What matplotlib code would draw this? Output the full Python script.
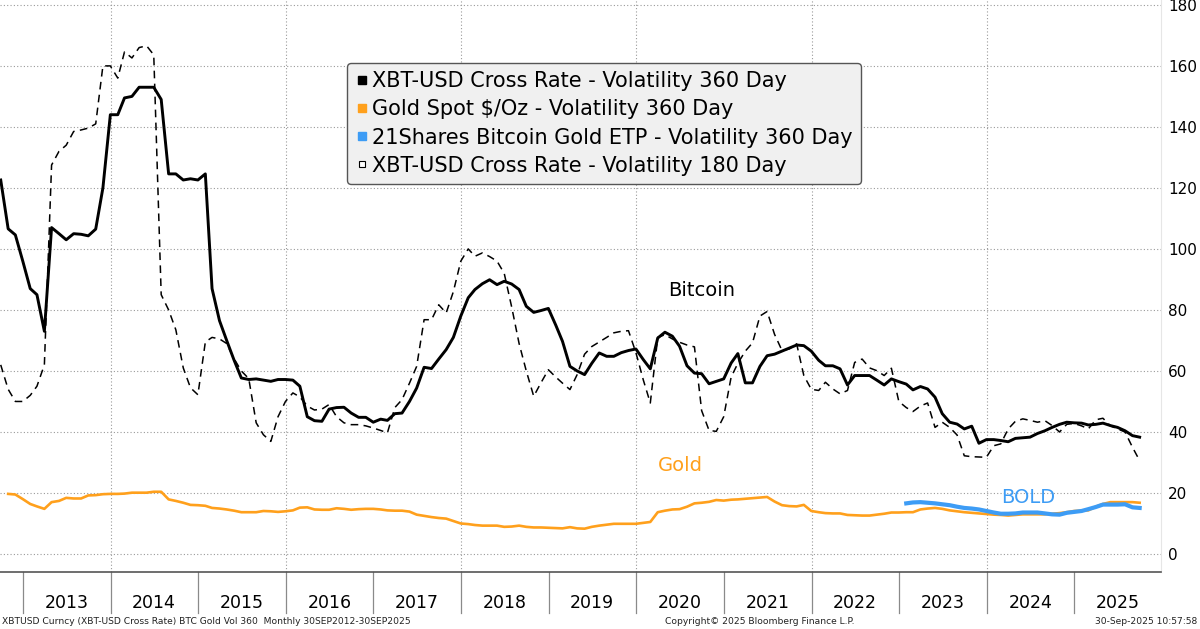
import pandas as pd
import matplotlib
matplotlib.use("Agg")
import matplotlib.pyplot as plt
from matplotlib.lines import Line2D
from matplotlib.transforms import blended_transform_factory

# monthly, 30 Sep 2012 .. 30 Sep 2025
dates = pd.date_range("2012-09-30", "2025-09-30", freq="ME")

btc_360 = [
    122.6, 106.6, 104.6, 96, 87, 85, 73, 107, 105, 103,
    105, 104.8, 104.3, 106.5, 120, 144, 144, 149.5, 150, 153,
    153, 153, 149, 124.6, 124.6, 122.6, 123, 122.6, 124.6, 87,
    76.5, 70, 63.5, 57.7, 57.2, 57.4, 57, 56.6, 57.2, 57.2,
    57, 55, 45, 43.7, 43.5, 47.5, 48, 48.1, 46.2, 44.8,
    44.8, 43.2, 44.2, 43.8, 46, 46.2, 50, 54.4, 61.2, 60.8,
    63.9, 67, 71, 78, 84, 86.7, 88.6, 89.9, 88.3, 89.4,
    88.5, 86.7, 81.2, 79.2, 79.8, 80.5, 75, 69.7, 61.5, 60,
    58.8, 62.5, 65.9, 64.8, 64.8, 66, 66.7, 67.2, 63.7, 60.7,
    70.8, 72.7, 71.4, 68.1, 61.7, 59.3, 59.1, 55.8, 56.6, 57.4,
    62.6, 65.7, 56.1, 56.1, 61.5, 65, 65.5, 66.5, 67.5, 68.5,
    68.3, 66.5, 63.5, 61.7, 61.7, 60.7, 55.4, 58.5, 58.5, 58.5,
    57, 55.4, 57.4, 56.5, 55.7, 53.8, 54.9, 54.1, 51.4, 46,
    43.2, 42.6, 41, 41.9, 36.3, 37.5, 37.5, 37.2, 36.8, 37.9,
    38.1, 38.3, 39.5, 40.4, 41.5, 42.5, 43.2, 43, 42.9, 42.3,
    42.5, 42.9, 42.1, 41.5, 40.4, 38.8, 38.3,
]

btc_180 = [
    62, 54, 50, 50, 52, 55, 62, 127.5, 132, 134,
    138.5, 139, 139.6, 141, 160, 160, 156, 164.6, 162.6, 166,
    166.6, 163.6, 85, 80, 73.5, 61, 54.5, 52.2, 69.5, 71,
    70.5, 69, 64, 60, 57.5, 43, 39.1, 36.9, 45, 50,
    52.8, 51.5, 48.5, 47.2, 47.5, 49, 45, 43, 42.4, 42.4,
    42, 41.3, 40.5, 39.7, 48, 50.6, 56, 61.5, 76.8, 76.8,
    81.7, 79, 86, 96, 100, 97.6, 98.7, 97.5, 96, 92,
    81, 69, 60, 51.7, 56.1, 60.4, 58, 56, 53.9, 58.8,
    65.5, 68, 69.5, 71, 72.5, 73, 73.2, 66, 57, 49.5,
    71, 71.9, 70.5, 69.4, 68.5, 67.9, 47, 40.5, 40.2, 45,
    58, 62.5, 66.5, 69.2, 78, 79.5, 72, 66.7, 67.2, 68.9,
    58.5, 54, 53.6, 56.3, 54.1, 52.5, 53.6, 62.8, 63.9, 61,
    60.1, 58.5, 60.9, 50, 48, 46.7, 48.5, 49.5, 41.5, 43.2,
    41.5, 39, 32.2, 31.9, 31.8, 31.7, 35.5, 36.1, 41, 43.5,
    44.3, 43.8, 43.2, 43.7, 42.1, 40, 42.5, 42.8, 42, 41,
    44, 44.5, 42, 41, 40, 35, 30.6,
]

# gold starts Oct 2012
gold_360 = [
    19.7, 19.5, 18, 16.4, 15.6, 14.8, 17, 17.4, 18.4, 18.2,
    18.2, 19.2, 19.3, 19.6, 19.7, 19.7, 19.8, 20.1, 20.1, 20.1,
    20.4, 20.4, 17.9, 17.4, 16.8, 16.1, 16, 15.8, 15.1, 14.9,
    14.6, 14.2, 13.7, 13.7, 13.7, 14.1, 14, 13.8, 14, 14.3,
    15.2, 15.3, 14.6, 14.5, 14.5, 15, 14.8, 14.5, 14.7, 14.8,
    14.8, 14.6, 14.3, 14.2, 14.2, 13.9, 12.9, 12.5, 12.1, 11.8,
    11.6, 10.8, 10, 9.8, 9.5, 9.3, 9.3, 9.3, 8.9, 9,
    9.3, 8.9, 8.7, 8.7, 8.6, 8.5, 8.4, 8.8, 8.4, 8.3,
    8.9, 9.3, 9.6, 9.9, 9.9, 9.9, 9.9, 10.2, 10.5, 13.7,
    14.2, 14.6, 14.7, 15.5, 16.6, 16.8, 17.1, 17.7, 17.5, 17.8,
    17.9, 18.1, 18.3, 18.5, 18.7, 17.2, 16, 15.7, 15.6, 16.1,
    14.1, 13.7, 13.4, 13.3, 13.3, 12.8, 12.7, 12.6, 12.6, 12.9,
    13.2, 13.6, 13.6, 13.7, 13.7, 14.6, 14.9, 15.1, 14.8, 14.3,
    14, 13.7, 13.5, 13.3, 13.1, 12.9, 12.8, 12.6, 12.8, 13,
    13, 13, 13, 13.2, 13.4, 13.7, 14.1, 14.2, 14.3, 15.5,
    16.4, 17, 17, 17, 17, 16.8,
]

# BOLD starts Jan 2023
bold_360 = [
    16.6, 16.9, 17, 16.8, 16.6, 16.3, 16, 15.5, 15.1, 14.9,
    14.6, 14.1, 13.6, 13.2, 13.2, 13.3, 13.6, 13.6, 13.6, 13.3,
    13, 12.9, 13.5, 13.8, 14.1, 14.7, 15.4, 16.2, 16.2, 16.2,
    16.3, 15.3, 15.1,
]

years = list(range(2013, 2026))
y_ticks = list(range(0, 181, 20))

legend_labels = [
    "XBT-USD Cross Rate - Volatility 360 Day",
    "Gold Spot $/Oz - Volatility 360 Day",
    "21Shares Bitcoin Gold ETP - Volatility 360 Day",
    "XBT-USD Cross Rate - Volatility 180 Day",
]

ORANGE = "#FFA01C"
BLUE = "#3D9CF5"

plt.rcParams["font.family"] = ["DejaVu Sans"]

fig = plt.figure(figsize=(12, 6.29), dpi=100)
ax = fig.add_axes([0, 1 - 572 / 629, 1161 / 1200, 572 / 629])

ax.plot(dates[1:], gold_360, color=ORANGE, lw=1.9, zorder=3)
ax.plot(dates[-len(bold_360):], bold_360, color=BLUE, lw=3.0, zorder=4)
ax.plot(dates, btc_180, color="black", lw=1.1, dashes=(5, 3.5), zorder=5)
ax.plot(dates, btc_360, color="black", lw=2.1, zorder=6)

ax.set_xlim(pd.Timestamp("2012-09-27"), pd.Timestamp("2025-12-28"))
ax.set_ylim(-5.9, 181.6)

ax.yaxis.tick_right()
ax.set_yticks(y_ticks)
ax.tick_params(axis="y", length=0, labelsize=11, pad=5)
ax.set_xticks([])
ax.grid(axis="y", ls=(0, (1, 2)), color="#9a9a9a", lw=0.8)

for y in years:
    if y % 2 == 0:
        ax.axvline(pd.Timestamp(f"{y}-01-01"), ls=(0, (1, 2)), color="#9a9a9a", lw=0.8, zorder=1)

for s in ["top", "left"]:
    ax.spines[s].set_visible(False)
ax.spines["bottom"].set_color("#555555")
ax.spines["bottom"].set_linewidth(1.2)
ax.spines["right"].set_color("#e6e6e6")

# year separators and labels under the axis
trans = blended_transform_factory(ax.transData, ax.transAxes)
for y in years:
    d = pd.Timestamp(f"{y}-01-01")
    ax.plot([d, d], [0, -0.072], transform=trans, clip_on=False, color="#8a8a8a", lw=0.9)
    ax.text(pd.Timestamp(f"{y}-07-01"), -0.054, str(y), transform=trans,
            ha="center", va="center", fontsize=12.5)

# series labels
ax.text(0.604, 0.493, "Bitcoin", transform=ax.transAxes, ha="center", va="center", fontsize=14)
ax.text(0.586, 0.187, "Gold", transform=ax.transAxes, ha="center", va="center", fontsize=14, color=ORANGE)
ax.text(0.886, 0.131, "BOLD", transform=ax.transAxes, ha="center", va="center", fontsize=14, color=BLUE)

handles = [
    Line2D([], [], ls="none", marker="s", ms=6, color="black"),
    Line2D([], [], ls="none", marker="s", ms=6, color=ORANGE),
    Line2D([], [], ls="none", marker="s", ms=6, color=BLUE),
    Line2D([], [], ls="none", marker="s", ms=5, mfc="white", mec="black", mew=0.8),
]
leg = ax.legend(handles, legend_labels, loc="upper left", bbox_to_anchor=(0.299, 0.89),
                borderaxespad=0, fontsize=15, frameon=True, fancybox=True, framealpha=1,
                facecolor="#f0f0f0", edgecolor="#555555", handlelength=0.6,
                handletextpad=0.2, borderpad=0.4, labelspacing=0.39)
leg.get_frame().set_linewidth(1.0)
leg.set_zorder(10)

# footer
fig.text(0.002, 0.012, "XBTUSD Curncy (XBT-USD Cross Rate) BTC Gold Vol 360  Monthly 30SEP2012-30SEP2025",
         fontsize=6.6, ha="left", va="center", color="#222222")
fig.text(0.633, 0.012, "Copyright\u00a9 2025 Bloomberg Finance L.P.", fontsize=6.6,
         ha="center", va="center", color="#222222")
fig.text(0.998, 0.012, "30-Sep-2025 10:57:58", fontsize=6.6, ha="right", va="center", color="#222222")

fig.savefig("out.png", dpi=100)
